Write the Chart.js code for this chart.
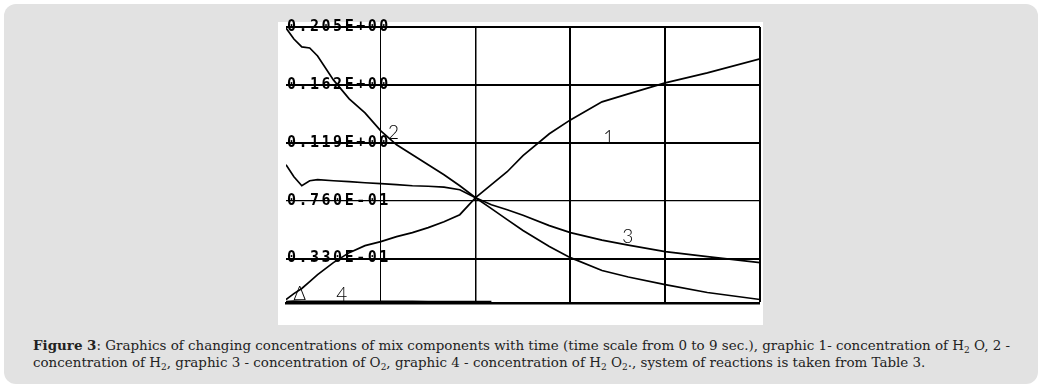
<!DOCTYPE html>
<html>
<head>
<meta charset="utf-8">
<script src="https://cdn.jsdelivr.net/npm/chart.js@4.4.0/dist/chart.umd.min.js"></script>
<style>
    body { margin: 0; background: #fff; width: 1043px; height: 392px; position: relative; overflow: hidden; }
    #panel { position: absolute; left: 4px; top: 4px; width: 1034px; height: 380px; background: #e2e2e2; border-radius: 12px; }
    #box { position: absolute; left: 278px; top: 22px; width: 485px; height: 303px; background: #fff; }
    #plot { position: absolute; left: 278px; top: 12px; width: 485px; height: 313px; }
    #caption { position: absolute; left: 33px; top: 337px; font-family: 'DejaVu Serif', serif; font-size: 13.45px; line-height: 17px; color: #222; white-space: nowrap; }
    #caption sub { font-size: 9px; vertical-align: -3px; line-height: 0; }
</style>
</head>
<body>
<div id="panel"></div>
<div id="box"></div>
<div id="plot"><canvas id="concChart"></canvas></div>
<div id="caption"><b>Figure 3</b>: Graphics of changing concentrations of mix components with time (time scale from 0 to 9 sec.), graphic 1- concentration of H<sub>2</sub> O, 2 -<br>concentration of H<sub>2</sub>, graphic 3 - concentration of O<sub>2</sub>, graphic 4 - concentration of H<sub>2</sub> O<sub>2</sub>., system of reactions is taken from Table 3.</div>

<script>
// time, sec
const timeSec = [0, 0.15, 0.3, 0.45, 0.6, 0.9, 1.2, 1.5, 1.8, 2.1, 2.4, 2.7, 3.0, 3.3, 3.6, 3.9, 4.2, 4.5, 5.0, 5.4, 6.0, 6.5, 7.2, 8.0, 9.0];

// graphic 1 - H2O
const h2oConc = [0.0026, 0.0070, 0.0108, 0.0159, 0.0211, 0.0300, 0.0374, 0.0426, 0.0456, 0.0493, 0.0523, 0.0560, 0.0604, 0.0656, 0.0782, 0.0879, 0.0975, 0.1094, 0.1257, 0.1360, 0.1494, 0.1553, 0.1635, 0.1709, 0.1813];
// graphic 2 - H2
const h2Conc = [0.2043, 0.1961, 0.1902, 0.1894, 0.1835, 0.1657, 0.1516, 0.1412, 0.1279, 0.1175, 0.1101, 0.1027, 0.0953, 0.0871, 0.0782, 0.0701, 0.0619, 0.0538, 0.0419, 0.0337, 0.0241, 0.0193, 0.0137, 0.0078, 0.0026];
// graphic 3 - O2
const o2Conc = [0.1027, 0.0938, 0.0871, 0.0908, 0.0916, 0.0908, 0.0901, 0.0893, 0.0886, 0.0879, 0.0871, 0.0867, 0.0860, 0.0841, 0.0782, 0.0730, 0.0693, 0.0652, 0.0575, 0.0523, 0.0467, 0.0430, 0.0382, 0.0345, 0.0300];
// graphic 4 - H2O2
const h2o2Conc = [0.0010, 0.0014, 0.0013, 0.0012, 0.0012, 0.0012, 0.0012, 0.0012, 0.0012, 0.0012, 0.0012, 0.0011, 0.0011, 0.0011, 0.0011, 0.0010, null, null, null, null, null, null, null, null, null];

// axis ticks
const timeTicks = [0, 1.8, 3.6, 5.4, 7.2, 9];
const concTicks = [0, 0.033, 0.076, 0.119, 0.162, 0.205];
const concTickLabels = ['', '0.330E-01', '0.760E-01', '0.119E+00', '0.162E+00', '0.205E+00'];

// curve numbers written on the plot
const curveLabelText = ['1', '2', '3', '4', '\u0394'];
const curveLabelTime = [6.13, 2.04, 6.49, 1.06, 0.26];
const curveLabelConc = [0.1223, 0.1264, 0.0493, 0.0063, 0.0070];

function toPoints(values) {
    return timeSec.map((t, i) => ({ x: t, y: values[i] }));
}

function makeSeries(label, values) {
    return {
        label: label,
        data: toPoints(values),
        borderColor: '#000',
        borderWidth: 1.7,
        pointRadius: 0,
        tension: 0,
        fill: false,
        spanGaps: false
    };
}

// wide pixel-style tick labels
const tickSpacing = {
    id: 'tickSpacing',
    beforeDraw(chart) { chart.ctx.letterSpacing = '2.5px'; },
    beforeDatasetsDraw(chart) { chart.ctx.letterSpacing = '0px'; }
};

const curveLabels = {
    id: 'curveLabels',
    afterDraw(chart) {
        const { ctx, scales: { x, y } } = chart;
        ctx.save();
        ctx.letterSpacing = '0px';
        ctx.font = '300 19px Lato, "DejaVu Sans", sans-serif';
        ctx.fillStyle = '#000';
        ctx.textAlign = 'center';
        ctx.textBaseline = 'middle';
        curveLabelText.forEach((txt, i) => {
            ctx.fillText(txt, x.getPixelForValue(curveLabelTime[i]), y.getPixelForValue(curveLabelConc[i]));
        });
        ctx.restore();
    }
};

const ctx = document.getElementById('concChart').getContext('2d');
const concChart = new Chart(ctx, {
    type: 'line',
    data: {
        datasets: [
            makeSeries('H2O', h2oConc),
            makeSeries('H2', h2Conc),
            makeSeries('O2', o2Conc),
            makeSeries('H2O2', h2o2Conc)
        ]
    },
    options: {
        responsive: true,
        maintainAspectRatio: false,
        animation: false,
        layout: { padding: { left: 6, top: 15, right: 3, bottom: 22 } },
        plugins: { legend: { display: false }, tooltip: { enabled: false } },
        scales: {
            x: {
                type: 'linear',
                min: 0,
                max: 9,
                afterBuildTicks: scale => { scale.ticks = timeTicks.map(v => ({ value: v })); },
                ticks: { display: false },
                grid: {
                    drawTicks: false,
                    color: '#000',
                    lineWidth: c => {
                        const v = c.tick ? c.tick.value : 0;
                        if (v === 0) return 0;
                        if (v < 2) return 1;
                        if (v < 4) return 1.5;
                        return 2;
                    }
                },
                border: { display: true, color: '#000', width: 2.5 }
            },
            y: {
                min: 0,
                max: 0.205,
                afterBuildTicks: scale => { scale.ticks = concTicks.map(v => ({ value: v })); },
                // labels sit inside the plot, so no extra room above/below
                afterFit: scale => { scale.paddingTop = 0; scale.paddingBottom = 0; },
                ticks: {
                    mirror: true,
                    padding: 1,
                    color: '#000',
                    font: { family: '"DejaVu Sans Mono", monospace', size: 15, weight: 'bold' },
                    callback: (value, index) => concTickLabels[index]
                },
                grid: {
                    drawTicks: false,
                    color: '#000',
                    lineWidth: c => {
                        const v = c.tick ? c.tick.value : 0;
                        if (v === 0) return 0;
                        if (v === 0.076) return 1.3;
                        return 2;
                    }
                },
                border: { display: false }
            }
        }
    },
    plugins: [tickSpacing, curveLabels]
});
</script>
</body>
</html>
